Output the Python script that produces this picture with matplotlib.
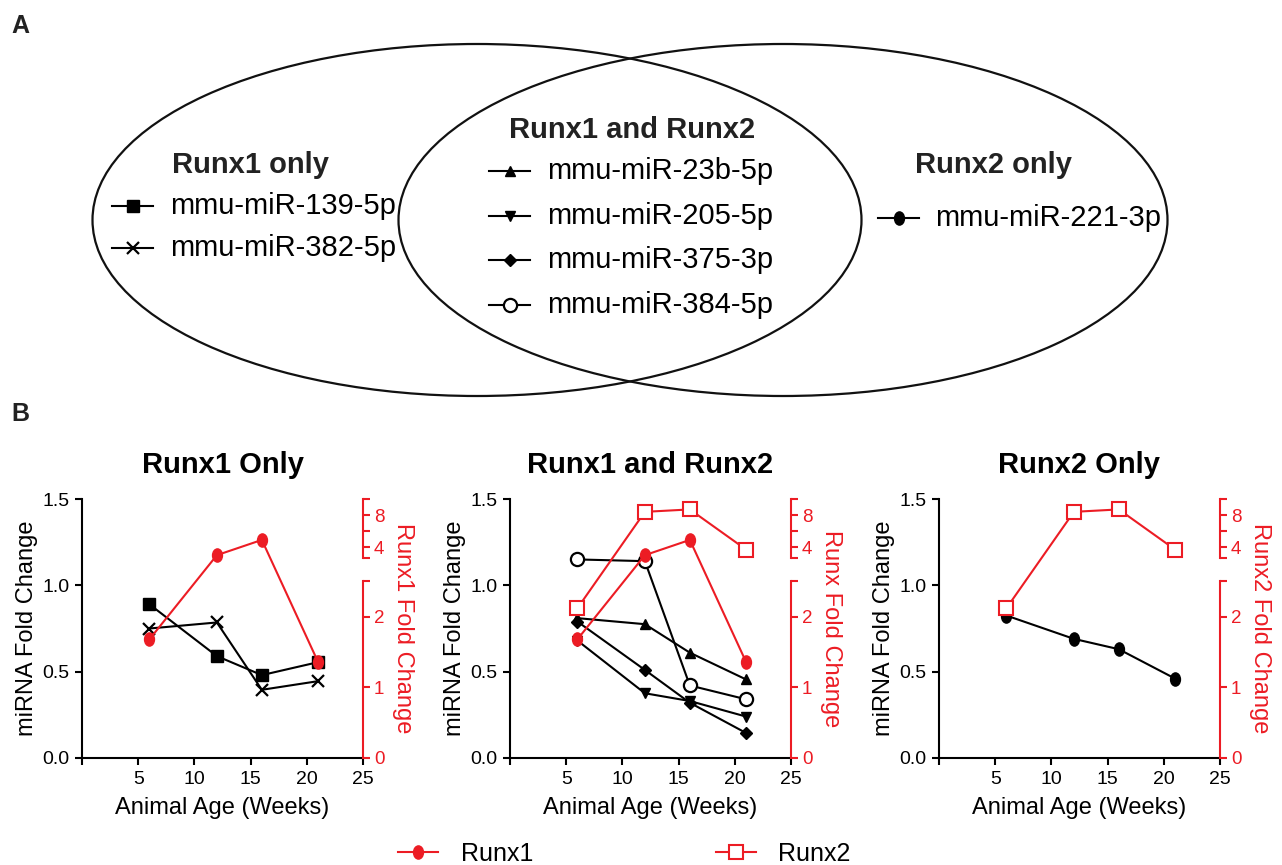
import numpy as np
import matplotlib
matplotlib.use('Agg')
import matplotlib.pyplot as plt
from matplotlib.patches import Ellipse
from matplotlib.path import Path
from matplotlib.transforms import Affine2D

plt.rcParams['font.family'] = ['Liberation Sans', 'DejaVu Sans']

#values
weeks = [6, 12, 16, 21]

mir139 = [0.89, 0.59, 0.48, 0.555]
mir382 = [0.75, 0.785, 0.395, 0.445]
mir23b = [0.81, 0.775, 0.61, 0.455]
mir205 = [0.68, 0.375, 0.33, 0.24]
mir375 = [0.79, 0.51, 0.32, 0.145]
mir384 = [1.15, 1.14, 0.42, 0.34]
mir221 = [0.825, 0.69, 0.63, 0.46]

runx1_fold = [1.68, 3.0, 4.9, 1.36]
runx2_fold = [2.12, 8.4, 8.7, 3.7]

group_titles = ['Runx1 only', 'Runx1 and Runx2', 'Runx2 only']
group_names = [['mmu-miR-139-5p', 'mmu-miR-382-5p'],
               ['mmu-miR-23b-5p', 'mmu-miR-205-5p', 'mmu-miR-375-3p', 'mmu-miR-384-5p'],
               ['mmu-miR-221-3p']]
group_values = [[mir139, mir382],
                [mir23b, mir205, mir375, mir384],
                [mir221]]

panel_titles = ['Runx1 Only', 'Runx1 and Runx2', 'Runx2 Only']
right_labels = ['Runx1 Fold Change', 'Runx Fold Change', 'Runx2 Fold Change']
red_names = [['Runx1'], ['Runx1', 'Runx2'], ['Runx2']]
red_values = [[runx1_fold], [runx1_fold, runx2_fold], [runx2_fold]]

x_ticks = [0, 5, 10, 15, 20, 25]
x_tick_labels = ['', '5', '10', '15', '20', '25']
y_ticks = [0, 0.5, 1.0, 1.5]
y_tick_labels = ['0.0', '0.5', '1.0', '1.5']
r_ticks = [0, 1, 2, 2.5, 2.64, 4, 6, 8, 10]
r_tick_labels = ['0', '1', '2', '', '', '4', '', '8', '']

RED = '#ec1c24'
W, H = 1282, 865

#oval marker (circles in the original are a bit taller than wide)
oval = Path.unit_circle().transformed(Affine2D().scale(0.75, 1.0))

styles = {
    'mmu-miR-139-5p': dict(marker='s', ms=8, mfc='k'),
    'mmu-miR-382-5p': dict(marker='x', ms=8.5, mew=1.6),
    'mmu-miR-23b-5p': dict(marker='^', ms=7.5),
    'mmu-miR-205-5p': dict(marker='v', ms=7.5),
    'mmu-miR-375-3p': dict(marker='D', ms=6),
    'mmu-miR-384-5p': dict(marker='o', ms=9.5, mfc='white', mew=1.6),
    'mmu-miR-221-3p': dict(marker=oval, ms=9.5),
    'Runx1': dict(marker=oval, ms=9.5, mfc=RED, mec=RED),
    'Runx2': dict(marker='s', ms=9.5, mfc='white', mec=RED, mew=1.5),
}

#right axis is split: 0-2.5 on the long lower part, 2.64-10 on a short upper part
seg_vals = [0, 2.5, 2.64, 10]
seg_pos = [0, 0.682, 0.772, 1.0]

def fwd(v):
    return np.interp(v, seg_vals, seg_pos)

def inv(p):
    return np.interp(p, seg_pos, seg_vals)


fig = plt.figure(figsize=(W / 100, H / 100), dpi=100)

#panel A: two overlapping ellipses with the marker keys
ax0 = fig.add_axes([0, 0, 1, 1], zorder=0)
ax0.set_xlim(0, W)
ax0.set_ylim(H, 0)
ax0.axis('off')

ax0.add_patch(Ellipse((477, 220), 769, 352, fill=False, lw=1.6, ec='#111111'))
ax0.add_patch(Ellipse((783, 220), 769, 352, fill=False, lw=1.6, ec='#111111'))

ax0.text(20, 26, 'A', fontsize=18, fontweight='bold', ha='center', va='center', color='#222222')
ax0.text(20, 414, 'B', fontsize=18, fontweight='bold', ha='center', va='center', color='#222222')

title_pos = [(172, 165), (509, 130), (915, 165)]
key_x = [112, 489, 878]
text_x = [170, 547, 935]
first_row = [206, 171, 218]
row_step = [42, 44.7, 44]

for g in range(3):
    ax0.text(title_pos[g][0], title_pos[g][1], group_titles[g], fontsize=21,
             fontweight='bold', ha='left', va='center', color='#222222')
    for r, name in enumerate(group_names[g]):
        y = first_row[g] + r * row_step[g]
        kx = key_x[g]
        ax0.plot([kx, kx + 20.5, kx + 41], [y, y, y], color='k', lw=1.5,
                 markevery=[1], **styles[name])
        ax0.text(text_x[g], y, name, fontsize=21, ha='left', va='center')

#panel B: three small twin-axis plots
lefts = [82, 510, 939]
legend_handles = {}

for i in range(3):
    ax = fig.add_axes([lefts[i] / W, 107 / H, 281 / W, 259 / H])
    ax.patch.set_alpha(0)
    for name, vals in zip(group_names[i], group_values[i]):
        ax.plot(weeks, vals, color='k', lw=1.5, clip_on=False, zorder=3, **styles[name])

    ax.set_xlim(0, 25)
    ax.set_ylim(0, 1.5)
    ax.set_xticks(x_ticks, x_tick_labels)
    ax.set_yticks(y_ticks, y_tick_labels)
    ax.spines['top'].set_visible(False)
    ax.spines['right'].set_visible(False)
    for s in ['left', 'bottom']:
        ax.spines[s].set_linewidth(1.5)
    ax.tick_params(direction='out', length=5, width=1.5, labelsize=14, pad=4)
    ax.set_xlabel('Animal Age (Weeks)', fontsize=17, va='center')
    ax.xaxis.set_label_coords(0.5, -0.193)
    ax.set_ylabel('miRNA Fold Change', fontsize=17, va='center')
    ax.yaxis.set_label_coords(-0.195, 0.5)
    ax.text(0.5, 1.131, panel_titles[i], transform=ax.transAxes, ha='center',
            va='center', fontsize=21, fontweight='bold')

    ax2 = ax.twinx()
    ax2.set_yscale('function', functions=(fwd, inv))
    for name, vals in zip(red_names[i], red_values[i]):
        ln, = ax2.plot(weeks, vals, color=RED, lw=1.5, clip_on=False, **styles[name])
        legend_handles[name] = ln

    #draw the broken red spine as two pieces
    yt = ax2.get_yaxis_transform()
    for lo, hi in [(0, 2.5), (2.64, 10)]:
        ax2.plot([1, 1], [lo, hi], transform=yt, color=RED, lw=1.5, clip_on=False)

    for s in ax2.spines.values():
        s.set_visible(False)
    ax2.set_ylim(0, 10)
    ax2.set_yticks(r_ticks, r_tick_labels)
    ax2.minorticks_off()
    ax2.tick_params(axis='y', colors=RED, direction='out', length=5, width=1.5,
                    labelsize=13.5, pad=3)
    ax2.set_ylabel(right_labels[i], fontsize=17, color=RED, rotation=270, va='center')
    ax2.yaxis.set_label_coords(1.142, 0.5)
    ax.set_xlim(0, 25)

fig.legend([legend_handles['Runx1'], legend_handles['Runx2']], ['Runx1', 'Runx2'],
           loc='center', bbox_to_anchor=(0.487, 0.013), ncol=2, frameon=False,
           fontsize=18, handlelength=1.6, handletextpad=0.9, columnspacing=7.3)

fig.savefig('out.png', dpi=100)
